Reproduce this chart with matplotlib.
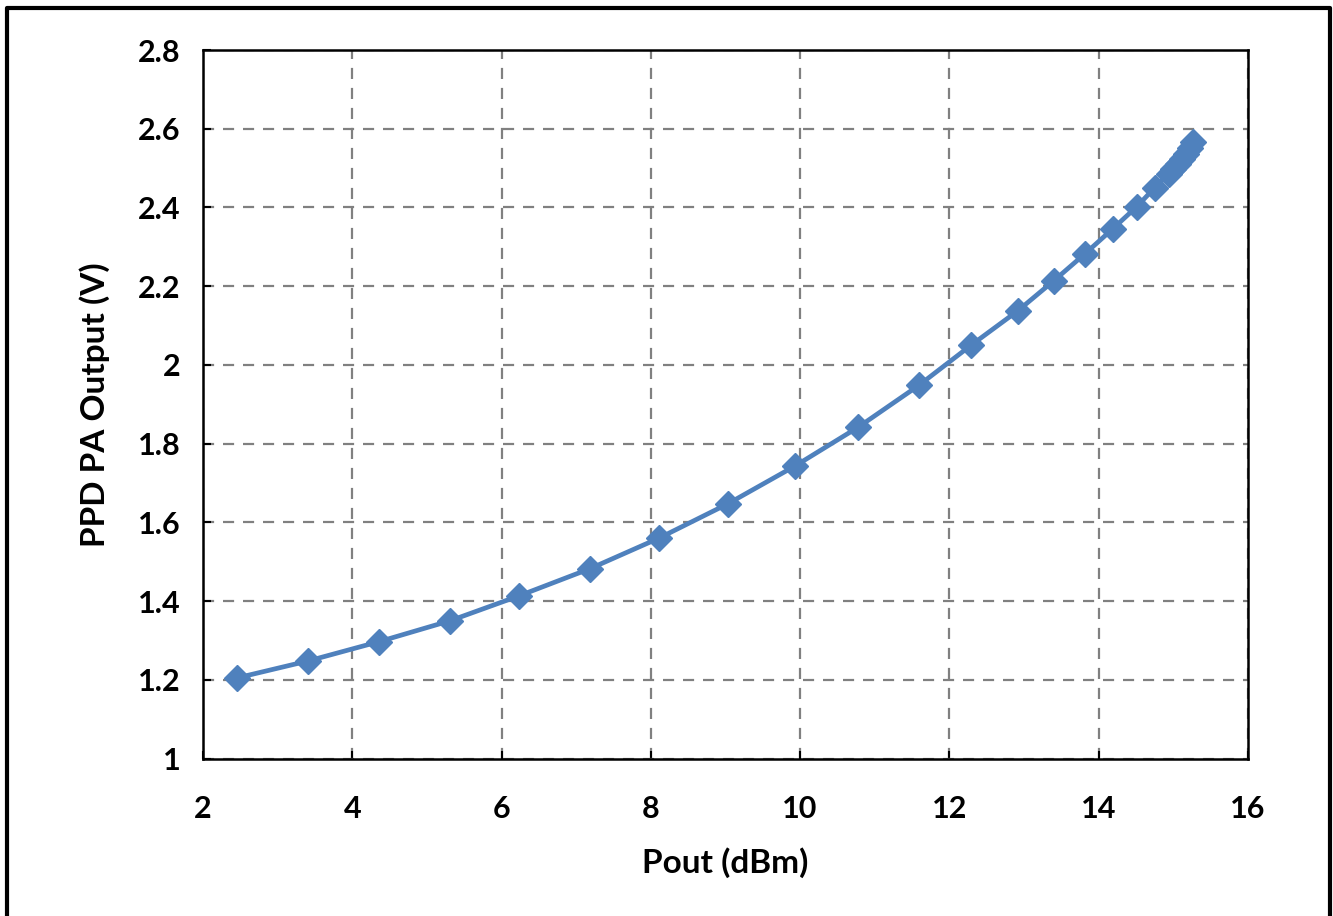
import matplotlib
matplotlib.use('Agg')
import matplotlib.pyplot as plt
from matplotlib.lines import Line2D

pout = [2.46, 3.41, 4.36, 5.31, 6.23, 7.18, 8.11, 9.03, 9.93, 10.78, 11.59,
        12.29, 12.92, 13.40, 13.82, 14.19, 14.51, 14.75, 14.94, 15.00, 15.06,
        15.12, 15.17, 15.22, 15.27]
vout = [1.205, 1.248, 1.297, 1.350, 1.413, 1.482, 1.560, 1.647, 1.743, 1.842,
        1.948, 2.050, 2.138, 2.214, 2.283, 2.346, 2.402, 2.450, 2.486, 2.498,
        2.511, 2.524, 2.536, 2.552, 2.567]

xticks = [2, 4, 6, 8, 10, 12, 14, 16]
yticks = [1, 1.2, 1.4, 1.6, 1.8, 2, 2.2, 2.4, 2.6, 2.8]
ylabels = ['1', '1.2', '1.4', '1.6', '1.8', '2', '2.2', '2.4', '2.6', '2.8']

plt.rcParams['font.family'] = ['Lato', 'DejaVu Sans']
plt.rcParams['font.weight'] = 'bold'

fig = plt.figure(figsize=(13.33, 9.16), dpi=100)
ax = fig.add_axes([0.1523, 0.1719, 0.7839, 0.7735])

ax.plot(pout, vout, color='#4F81BD', lw=3.4, marker='D', markersize=13,
        markeredgecolor='#4F81BD', zorder=3)

ax.set_xlim(2, 16)
ax.set_ylim(1, 2.8)
ax.set_xticks(xticks)
ax.set_yticks(yticks)
ax.set_yticklabels(ylabels)
ax.grid(True, color='#808080', linestyle=(0, (5, 4)), lw=1.6)
ax.tick_params(direction='in', length=6, width=1.5, labelsize=22)
ax.tick_params(axis='x', pad=26)
ax.tick_params(axis='y', pad=16)
for s in ax.spines.values():
    s.set_linewidth(1.8)

ax.set_xlabel('Pout (dBm)', fontsize=24, fontweight='bold', labelpad=18)
ax.set_ylabel('PPD PA Output (V)', fontsize=24, fontweight='bold', labelpad=20)

# outer frame (left, top, right only)
fx0, fx1, fy1 = 7.5 / 1333, 1329.5 / 1333, 1 - 7.5 / 916
fig.add_artist(Line2D([fx0, fx0, fx1, fx1], [0, fy1, fy1, 0], transform=fig.transFigure,
                      color='black', lw=3))

fig.savefig('out.png', dpi=100)
